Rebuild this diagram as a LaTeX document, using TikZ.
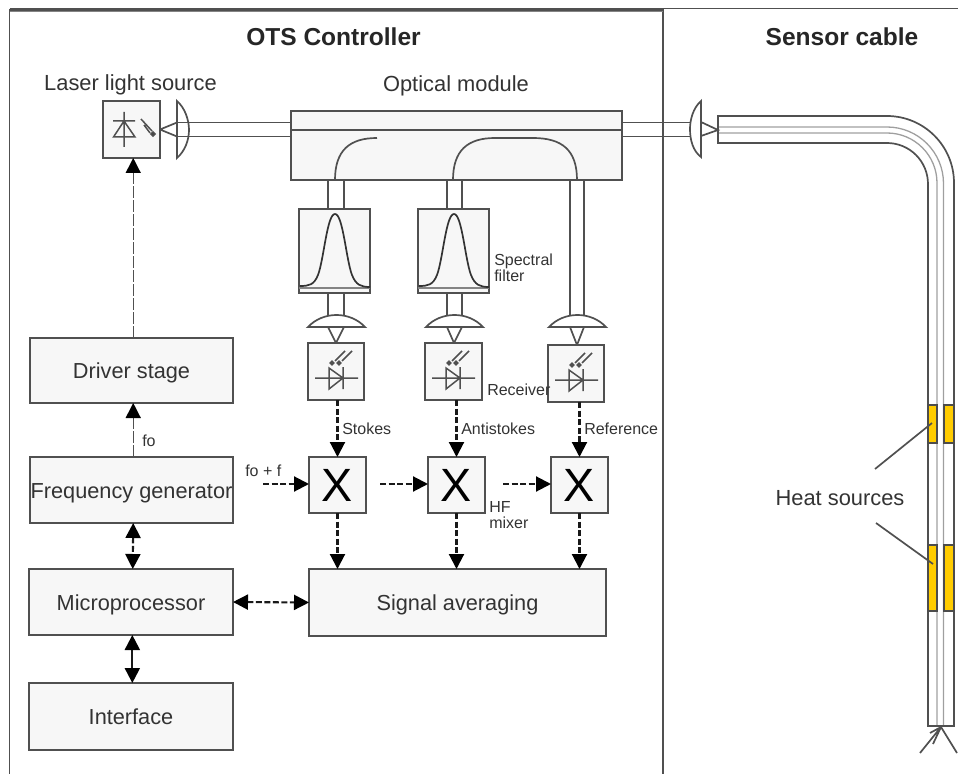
\documentclass[tikz,border=0pt]{standalone}
\usepackage{fontspec}
\setmainfont{Liberation Sans}
\usetikzlibrary{arrows.meta}
\def\px{0.75pt}
\definecolor{ln}{HTML}{505050}
\definecolor{tx}{HTML}{333333}
\definecolor{bx}{HTML}{F7F7F7}
\definecolor{heat}{HTML}{FFCC00}
\tikzset{
  box/.style={draw=ln,fill=bx,line width=1.7*\px,inner sep=0pt,outer sep=0pt,anchor=north west,text=tx,align=center,font=\fontsize{16.3}{18}\selectfont,text height=14pt,text depth=2pt},
  mixer/.style={box,minimum width=57*\px,minimum height=56*\px,font=\fontsize{35}{35}\selectfont,text=black,text height=,text depth=},
  heatbox/.style={box,fill=heat,draw=black!70},
  ln/.style={draw=ln,line width=1.7*\px},
  fine/.style={draw=ln!55,line width=1.3*\px},
  lab/.style={inner sep=0pt,text=tx,anchor=west,align=left,font=\fontsize{12}{9.8}\selectfont},
  big/.style={inner sep=0pt,text=tx,font=\fontsize{16.4}{18}\selectfont},
  title/.style={inner sep=0pt,text=black!85,font=\bfseries\fontsize{18.4}{20}\selectfont},
  flow/.style={draw=black!90,line width=2.1*\px,dash pattern=on 6*\px off 2.5*\px,-{Triangle[width=15*\px,length=15*\px,sep=0pt,black]}},
  flowb/.style={flow,{Triangle[width=15*\px,length=15*\px,sep=0pt,black]}-{Triangle[width=15*\px,length=15*\px,sep=0pt,black]}},
  thinflow/.style={flow,draw=ln,line width=1.3*\px,dash pattern=on 12*\px off 2*\px},
}
\newcommand{\recsym}[1]{\begin{scope}[shift={#1}]
  \draw[ln,line width=1.5*\px] (7,35)--(50,35) (21,25)--(21,46)--(35,35)--cycle (35,24)--(35,46);
  \draw[ln,line width=1.5*\px] (27,18)--(37,8) (34,18)--(44,8);
  \fill[ln] (24,20) circle (1.6) (31,20) circle (1.6);
\end{scope}}
\newcommand{\filtcurve}[1]{\begin{scope}[shift={#1}]
  \draw[draw=ln!70,line width=1.3*\px] (0,79)--(71,79);
  \draw[draw=black!80,line width=1.7*\px] (1,77) .. controls (10,77) and (15,76) .. (19,66)
     .. controls (25,50) and (28,5) .. (36,5) .. controls (44,5) and (47,50) .. (53,66)
     .. controls (57,76) and (62,78) .. (71,78);
\end{scope}}
\newcommand{\rxlens}[1]{\begin{scope}[shift={#1}]
  \draw[ln,fill=white] (0,0) .. controls (15,-16) and (42,-16) .. (57,0) -- cycle;
\end{scope}}
\begin{document}
\begin{tikzpicture}[x=0.75pt,y=-0.75pt]
\useasboundingbox (0,0) rectangle (958,774);
% frame
\coordinate (fa) at (9.5,774); \coordinate (fb) at (9.5,10); \coordinate (fc) at (663,10); \coordinate (fd) at (663,774); \coordinate (fe) at (958,8.5);
\draw[draw=ln,line width=1.6*\px] (fa)--(fb)--(fc)--(fd);
\draw[draw=ln,line width=1.8*\px] (9.5,9) -- (663,9);
\draw[draw=ln!70,line width=1*\px] (9.5,11.5) -- (663,11.5);
\draw[draw=ln,line width=1*\px] (663,8.5)--(fe);
% titles
\node[title] (tOTS) at (333.5,37) {OTS Controller};
\node[title] (tSC) at (842,37) {Sensor cable};
\node[big] (tLaser) at (130.5,85) {Laser light source};
\node[big] (tOpt) at (456,86) {Optical module};
% optical module and fibres
\node[box,minimum width=331*\px,minimum height=69*\px] (opt) at (291,111) {};
\draw[ln] (opt.west |- 0,130) -- (opt.east |- 0,130);
\draw[ln] (335,180) .. controls (335,150) and (350,138) .. (377,138);
\draw[ln] (453,180) .. controls (453,150) and (468,138) .. (495,138) -- (533,138) .. controls (562,138) and (577,150) .. (577,180);
% laser
\node[box,minimum width=57*\px,minimum height=57*\px] (laser) at (103,101) {};
\begin{scope}[shift={(103,101)}]
  \draw[ln,line width=1.5*\px] (21,11)--(21,46) (10,20)--(32,20) (21,20)--(10.5,36)--(32,36)--cycle;
  \draw[ln,line width=1.5*\px] (38,18)--(49,30) (41,24)--(47,32);
  \fill[ln] (50,33) circle (1.8);
\end{scope}
% left lens and fibre
\draw[ln] (laser.east |- 0,129.5) -- (177,122.5) (laser.east |- 0,129.5) -- (177,136.5);
\draw[ln] (177,122.5) -- (opt.west |- 0,122.5) (177,136.5) -- (opt.west |- 0,136.5);
\draw[ln] (177,101) .. controls (185,108) and (189,120) .. (189,130) .. controls (189,140) and (185,151) .. (177,158) -- cycle;
% right lens and fibre
\draw[ln] (opt.east |- 0,122.5) -- (690,122.5) (opt.east |- 0,136.5) -- (690,136.5);
\draw[ln] (701,101) .. controls (693,108) and (690,120) .. (690,129) .. controls (690,140) and (693,151) .. (701,157) -- cycle;
\draw[ln] (701,122) -- (718,130) -- (701,136);
% sensor cable
\draw[fine] (718,127) -- (887,127) arc (270:360:56.5) -- (943.5,726);
\draw[fine] (718,133) -- (887,133) arc (270:360:50) -- (937,726);
\draw[ln] (718,116) -- (887,116) arc (270:360:67) -- (954,726) -- (928,726) -- (928,184) arc (0:-90:41) -- (718,143) -- cycle;
% heat sources
\node[heatbox,minimum width=9*\px,minimum height=38*\px] (h1) at (928,405) {};
\node[heatbox,minimum width=10*\px,minimum height=38*\px] (h2) at (944,405) {};
\node[heatbox,minimum width=9*\px,minimum height=66*\px] (h3) at (928,545) {};
\node[heatbox,minimum width=10*\px,minimum height=66*\px] (h4) at (944,545) {};
\node[big] (tHeat) at (840,498) {Heat sources};
\coordinate (hl1) at (875,469); \coordinate (hl2) at (876,523);
\draw[ln] (hl1) -- (932,423);
\draw[ln] (hl2) -- (933,564);
% cable end
\coordinate (tip) at (941,727); \coordinate (tl) at (920,753); \coordinate (tr) at (957,753);
\draw[ln] (tl) -- (tip) -- (tr) (tip) -- (933,744) (tip) -- (930,733);
% filters
\draw[ln] (328,180)--(328,209) (344,180)--(344,209) (447,180)--(447,209) (462,180)--(462,209);
\node[box,minimum width=71*\px,minimum height=84*\px] (f1) at (299,209) {};
\node[box,minimum width=71*\px,minimum height=84*\px] (f2) at (418,209) {};
\filtcurve{(299,209)} \filtcurve{(418,209)}
\draw[ln] (328,293)--(328,320) (344,293)--(344,320) (447,293)--(447,320) (462,293)--(462,320);
\draw[ln] (570,180)--(570,320) (584,180)--(584,320);
% lenses
\rxlens{(308,327)} \rxlens{(426,327)} \rxlens{(549,327)}
\draw[ln] (328,327)--(336,343)--(344,327) (447,327)--(454,343)--(462,327) (570,327)--(577,345)--(584,327);
% receivers
\node[box,minimum width=56*\px,minimum height=57*\px] (r1) at (308,343) {};
\node[box,minimum width=57*\px,minimum height=57*\px] (r2) at (425,343) {};
\node[box,minimum width=56*\px,minimum height=57*\px] (r3) at (548,345) {};
\recsym{(308,343)} \recsym{(425,343)} \recsym{(548,345)}
% mixers
\node[mixer] (x1) at (309,457) {X};
\node[mixer] (x2) at (428,457) {X};
\node[mixer] (x3) at (551,457) {X};
% lower blocks
\node[box,minimum width=297*\px,minimum height=67*\px] (avg) at (309,569) {Signal averaging};
\node[box,minimum width=203*\px,minimum height=65*\px] (drv) at (30,338) {Driver stage};
\node[box,minimum width=203*\px,minimum height=66*\px] (gen) at (30,457) {Frequency generator};
\node[box,minimum width=204*\px,minimum height=66*\px] (mic) at (29,569) {Microprocessor};
\node[box,minimum width=204*\px,minimum height=67*\px] (ifc) at (29,683) {Interface};
% arrows
\draw[thinflow] ([xshift=1.3pt]drv.north) -- ([xshift=1.3pt]drv.north |- laser.south);
\draw[thinflow] ([xshift=1.3pt]gen.north) -- ([xshift=1.3pt]drv.south);
\draw[flowb] ([xshift=1.3pt]gen.south) -- ([xshift=1.3pt]mic.north);
\draw[flowb,dash pattern=] ([xshift=1pt]mic.south) -- ([xshift=1pt]ifc.north);
\draw[flowb] (mic.east) -- (avg.west);
\draw[flow] (x1.north |- r1.south) -- (x1.north);
\draw[flow] (x2.north |- r2.south) -- (x2.north);
\draw[flow] (x3.north |- r3.south) -- (x3.north);
\draw[flow] (x1.south) -- (x1.south |- avg.north);
\draw[flow] (x2.south) -- (x2.south |- avg.north);
\draw[flow] (x3.south) -- (x3.south |- avg.north);
\coordinate (in0) at (263,484); \coordinate (in1) at (380,484); \coordinate (in2) at (503,484);
\draw[flow] (in0) -- (x1.west |- in0);
\draw[flow] (in1) -- (x2.west |- in1);
\draw[flow] (in2) -- (x3.west |- in2);
% labels
\node[lab] (lSpec) at (494,267.5) {Spectral\\filter};
\node[lab] (lRec) at (487,390) {Receiver};
\node[lab] (lSt) at (342,429) {Stokes};
\node[lab] (lAn) at (461,429) {Antistokes};
\node[lab] (lRef) at (584,429) {Reference};
\node[lab] (lfo) at (142,441) {fo};
\node[lab] (lfof) at (245,471) {fo + f};
\node[lab,font=\fontsize{12}{12}\selectfont] (lHF) at (489,515) {HF\\mixer};
\end{tikzpicture}
\end{document}
